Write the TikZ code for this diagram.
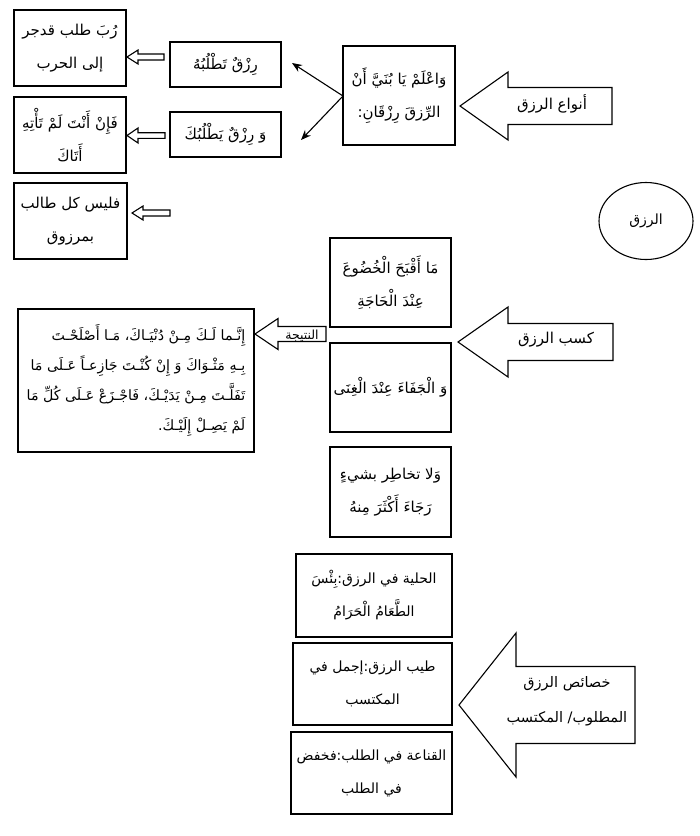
\documentclass[tikz,border=0pt]{standalone}
\usepackage{fontspec}
\newfontfamily\arabicfont[Script=Arabic]{DejaVu Sans}
\TeXXeTstate=1
\usetikzlibrary{arrows.meta,shapes.geometric}
\newcommand{\RL}[1]{\beginR #1\endR}
\tikzset{
  box/.style={draw, line width=1.1pt, inner sep=0pt, align=center,
    font=\arabicfont\fontsize{15}{33}\selectfont},
  boxsm/.style={box, font=\arabicfont\fontsize{14}{33}\selectfont},
  lbl/.style={inner sep=0pt, align=center, font=\arabicfont\fontsize{15}{35}\selectfont},
  hollow/.style={draw, line width=1.1pt, line join=miter, fill=white},
  thinarrow/.style={line width=1.1pt, -{Stealth[length=10pt,width=8pt]}}
}
% tipx, tipy, head-base x, head half height, shaft half height, shaft end x
\newcommand{\fatarrow}[6]{%
  \draw[hollow] (#1,#2) -- (#3,#2-#4) -- (#3,#2-#5) -- (#6,#2-#5) -- (#6,#2+#5)
    -- (#3,#2+#5) -- (#3,#2+#4) -- cycle;}
\begin{document}
\begin{tikzpicture}[x=1pt,y=-1pt]
\useasboundingbox (0,0) rectangle (700,836);

% left column
\node[box, minimum width=112pt, minimum height=76pt] (A) at (70,48)
  {\RL{رُبَ طلب قدجر}\\\RL{إلى الحرب}};
\node[box, minimum width=112pt, minimum height=76pt] (B) at (70,135)
  {\RL{فَإِنْ أَنْتَ لَمْ تَأْتِهِ}\\\RL{أَتَاكَ}};
\node[box, minimum width=113pt, minimum height=76pt] (C) at (70.5,221)
  {\RL{فليس كل طالب}\\\RL{بمرزوق}};

% second column
\node[box, minimum width=111pt, minimum height=45pt] (D) at (225.5,64.5)
  {\RL{رِزْقٌ تَطْلُبُهُ}};
\node[box, minimum width=111pt, minimum height=45pt] (E) at (225.5,134.5)
  {\RL{وَ رِزْقٌ يَطْلُبُكَ}};

% small hollow arrows
\fatarrow{127}{57}{138}{7}{3}{164}
\fatarrow{127}{135.5}{138}{7.5}{2.8}{165}
\fatarrow{132}{213}{143}{7}{3}{170}

% center box
\node[box, minimum width=112pt, minimum height=99pt] (F) at (399,95.5)
  {\RL{وَاعْلَمْ يَا بُنَيَّ أَنْ}\\\RL{الرِّزقَ رِزْقَانِ:}};
\coordinate (Fj) at (343,96);
\coordinate (t1) at (292,63);
\coordinate (t2) at (301,140);
\draw[thinarrow] (Fj) -- (t1);
\draw[thinarrow] (Fj) -- (t2);

% big arrow 1
\fatarrow{460}{106}{508}{34}{18.5}{612}
\node[lbl] (n1) at (552,104) {\RL{أنواع الرزق}};

% circle
\node[draw, ellipse, line width=1.1pt, minimum width=94pt, minimum height=77pt,
  inner sep=0pt, font=\arabicfont\fontsize{14}{30}\selectfont] (R) at (646,221) {\RL{الرزق}};

% middle column
\node[box, minimum width=121pt, minimum height=89pt] (G) at (390.5,282.5)
  {\RL{مَا أَقْبَحَ الْخُضُوعَ}\\\RL{عِنْدَ الْحَاجَةِ}};
\node[box, minimum width=121pt, minimum height=89pt] (H) at (390.5,387.5)
  {\RL{وَ الْجَفَاءَ عِنْدَ الْغِنَى}};
\node[box, minimum width=121pt, minimum height=90pt] (I) at (390.5,492)
  {\RL{وَلا تخاطِر بشيءٍ}\\\RL{رَجَاءَ أَكْثَرَ مِنهُ}};

% big arrow 2
\fatarrow{458}{342}{508}{35}{18.5}{613}
\node[lbl] (n2) at (556,340) {\RL{كسب الرزق}};

% result box
\node[draw, line width=1.1pt, minimum width=236pt, minimum height=143pt, align=right,
  inner xsep=1pt, inner ysep=0pt,
  font=\arabicfont\fontsize{14.2}{30}\selectfont] (J) at (136,380.5)
  {\RL{إِنَّـما لَـكَ مِـنْ دُنْيَـاكَ، مَـا أَصْلَحْـتَ}\\
   \RL{بِـهِ مَثْـوَاكَ وَ إِنْ كُنْـتَ جَازِعـاً عَـلَى مَا}\\
   \RL{تَفَلَّـتَ مِـنْ يَدَيْـكَ، فَاجْـزَعْ عَـلَى كُلِّ مَا}\\
   \RL{لَمْ يَصِـلْ إِلَيْـكَ.}};

% small arrow النتيجة
\fatarrow{255}{334}{278}{15.5}{7.5}{326}
\node[lbl, font=\arabicfont\fontsize{12.5}{14}\selectfont] (n4) at (302,336) {\RL{النتيجة}};

% bottom column
\node[boxsm, minimum width=156pt, minimum height=83pt] (K) at (374,595.5)
  {\RL{الحلية في الرزق:بِئْسَ}\\\RL{الطَّعَامُ الْحَرَامُ}};
\node[boxsm, minimum width=159pt, minimum height=82pt] (L) at (372.5,684)
  {\RL{طيب الرزق:إجمل في}\\\RL{المكتسب}};
\node[boxsm, minimum width=161pt, minimum height=82pt] (M) at (371.5,773)
  {\RL{القناعة في الطلب:فخفض}\\\RL{في الطلب}};

% big arrow 3
\fatarrow{459}{705}{516}{72}{38.5}{635}
\node[lbl, font=\arabicfont\fontsize{14.5}{35}\selectfont] (n3) at (567,701)
  {\RL{خصائص الرزق}\\\RL{المطلوب/ المكتسب}};
\end{tikzpicture}
\end{document}
